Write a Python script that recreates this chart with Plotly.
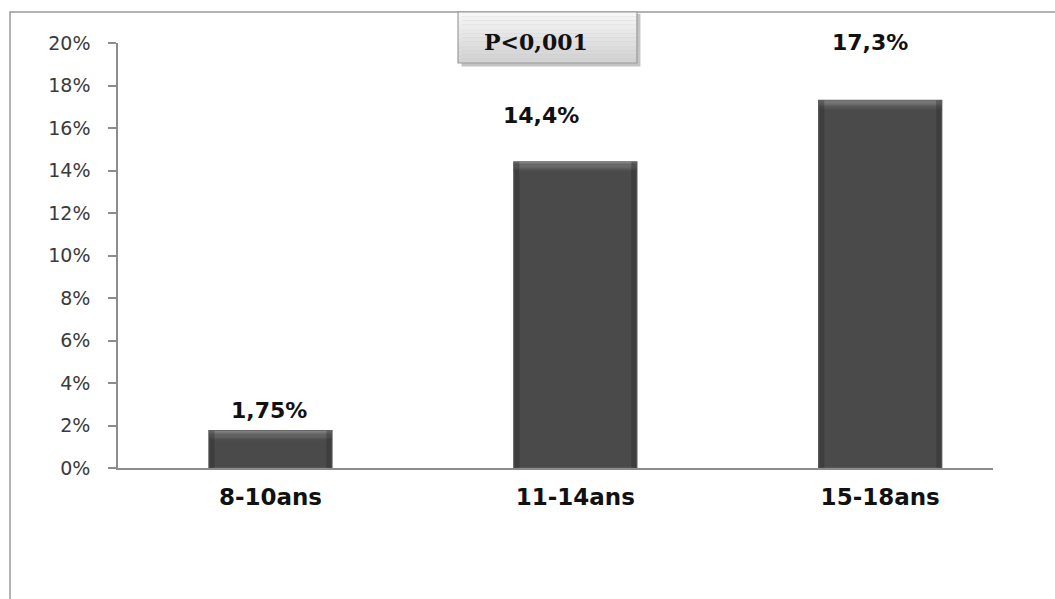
import plotly.graph_objects as go

# Prevalence by age group
categories = ["8-10ans", "11-14ans", "15-18ans"]
values = [1.75, 14.4, 17.3]
value_labels = ["1,75%", "14,4%", "17,3%"]
y_ticks = [0, 2, 4, 6, 8, 10, 12, 14, 16, 18, 20]
p_text = "P<0,001"

# label offsets (pixels) relative to the top of each bar
label_dx = [-1, -34, -10]
label_dy = [20, 47, 58]

BAR_W = 0.403

fig = go.Figure()
fig.add_trace(go.Bar(
    x=categories,
    y=values,
    width=BAR_W,
    marker=dict(color="#4a4a4a", line=dict(color="#5e5e5e", width=1.5)),
    hoverinfo="skip",
))

# bevel: lighter gradient on the top edge of each bar, darker side rims
for i, v in enumerate(values):
    left, right = i - BAR_W / 2, i + BAR_W / 2
    n = 8
    for k in range(n):
        g = int(128 - (128 - 78) * k / (n - 1))
        fig.add_shape(type="rect", xref="x", yref="y", ysizemode="pixel", yanchor=v,
                      x0=left, x1=right, y1=-k * 1.2, y0=-(k + 1) * 1.2 - 0.2,
                      line=dict(width=0), fillcolor=f"rgb({g},{g},{g})", layer="above")
    for side in (0, 1):
        x_a = left if side == 0 else right - 0.018
        fig.add_shape(type="rect", xref="x", yref="y",
                      x0=x_a, x1=x_a + 0.018, y0=0, y1=v,
                      line=dict(width=0), fillcolor="rgba(40,40,40,0.35)", layer="above")

for cat, v, lab, dx, dy in zip(categories, values, value_labels, label_dx, label_dy):
    fig.add_annotation(
        x=cat, y=v, text=lab, showarrow=False,
        xshift=dx, yshift=dy, yanchor="middle",
        font=dict(family="DejaVu Sans", size=22, color="#111111", weight="bold"),
    )

# outer frame
fig.add_shape(type="rect", xref="paper", yref="paper",
              x0=-0.1234, x1=1.3, y0=-0.6, y1=1.073,
              line=dict(color="#9a9a9a", width=1.5), fillcolor="rgba(0,0,0,0)", layer="below")

# significance box: shadow, gradient bands, border
bx0, bx1, by0, by1 = 0.3886, 0.5931, 0.953, 1.073
fig.add_shape(type="rect", xref="paper", yref="paper",
              x0=bx0 + 0.004, x1=bx1 + 0.004, y0=by0 - 0.008, y1=by1 - 0.004,
              line=dict(width=0), fillcolor="#c4c4c4", layer="above")
n_bands = 12
for i in range(n_bands):
    t = i / (n_bands - 1)
    g = int(246 - 36 * t)
    fig.add_shape(type="rect", xref="paper", yref="paper",
                  x0=bx0, x1=bx1,
                  y1=by1 - (by1 - by0) * i / n_bands,
                  y0=by1 - (by1 - by0) * (i + 1) / n_bands,
                  line=dict(width=0), fillcolor=f"rgb({g},{g},{g})", layer="above")
fig.add_shape(type="rect", xref="paper", yref="paper",
              x0=bx0, x1=bx1, y0=by0, y1=by1,
              line=dict(color="#9c9c9c", width=1.2), fillcolor="rgba(0,0,0,0)", layer="above")
fig.add_annotation(
    xref="paper", yref="paper", x=0.4777, y=1.002, text=p_text, showarrow=False,
    xanchor="center", yanchor="middle",
    font=dict(family="DejaVu Serif", size=22, color="#111111", weight="bold"),
)

fig.update_layout(
    width=1055, height=599,
    margin=dict(l=118, r=62, t=43, b=131),
    paper_bgcolor="white", plot_bgcolor="white",
    showlegend=False,
    xaxis=dict(
        type="category",
        range=[-0.5, 2.37],
        showline=True, linecolor="#8c8c8c", linewidth=1.5,
        ticks="", showgrid=False, zeroline=False,
        tickfont=dict(family="DejaVu Sans", size=23, color="#111111", weight="bold"),
        ticklabelstandoff=8,
    ),
    yaxis=dict(
        range=[0, 20],
        tickvals=y_ticks,
        ticktext=[f"{t}%" for t in y_ticks],
        showline=True, linecolor="#8c8c8c", linewidth=1.5,
        ticks="outside", ticklen=8, tickcolor="#8c8c8c", tickwidth=1.5,
        showgrid=False, zeroline=False,
        tickfont=dict(family="DejaVu Sans", size=19, color="#3a3a3a"),
        ticklabelstandoff=14,
    ),
)

fig.write_html("out.html")
